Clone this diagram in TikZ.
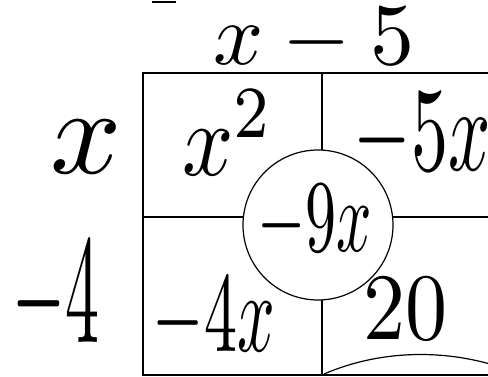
\documentclass[tikz,border=0pt]{standalone}
\usepackage{amsmath}
\usepackage{graphicx}
\usepackage{tikz}
\usetikzlibrary{positioning}

\tikzset{
  hand/.style={inner sep=0pt},
  gridline/.style={line width=1.6pt},
}
\newcommand{\bigtxt}[3]{\scalebox{#1}[#2]{#3}}

\begin{document}
\begin{tikzpicture}[x=1pt, y=-1pt]
    \useasboundingbox (0,0) rectangle (488,377);

    % box of the product
    \coordinate (tl) at (143,73);
    \coordinate (br) at (490,375);
    \draw[gridline] (490,73) -- (tl) -- (143,375) -- (br);
    \draw[gridline] (322,73) -- (322,375);
    \draw[gridline] (143,217) -- (490,217);

    % sum in the middle
    \node [draw, circle, fill=white, line width=1.2pt, minimum size=150pt, inner sep=0pt] (sum) at (318,225) {};
    \node [hand] (sumtxt) at (315,223) {\bigtxt{6.2}{10.3}{$-9x$}};

    % factors
    \node [hand] (top) at (314,40) {\bigtxt{8.8}{8.8}{$x-5$}};
    \node [hand] (lx) at (86,147) {\bigtxt{12.5}{12.3}{$x$}};
    \node [hand] (lfour) at (56,299) {\bigtxt{6.8}{15.5}{$-4$}};

    % products
    \node [hand] (cxx) at (228,133) {\bigtxt{9}{10.5}{$x^2$}};
    \node [hand] (cfx) at (422,137) {\bigtxt{7.4}{12}{$-5x$}};
    \node [hand] (cfour) at (214,320) {\bigtxt{6.6}{11.4}{$-4x$}};
    \node [hand] (ctw) at (405,309) {\bigtxt{8.4}{9.5}{$20$}};

    % stroke at the bottom right
    \draw[line width=1.2pt] (324,374) .. controls (380,350) and (440,350) .. (490,364);
    \draw[line width=2pt] (152,2) -- (176,2);
\end{tikzpicture}
\end{document}
